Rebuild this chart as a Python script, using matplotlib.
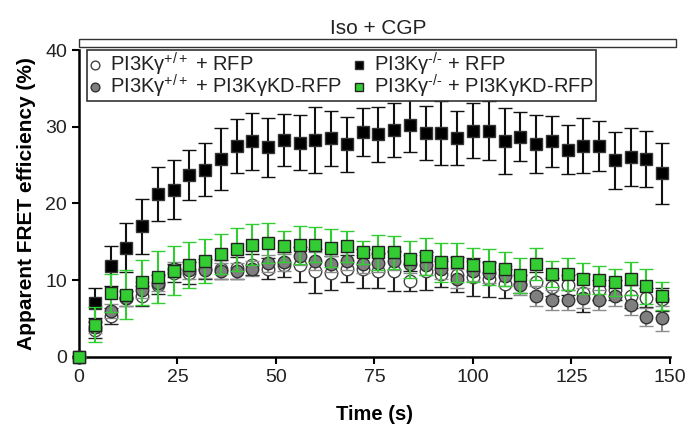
import matplotlib.pyplot as plt
from matplotlib.patches import Rectangle
import numpy as np

plt.rcParams['font.family'] = ['Liberation Sans', 'DejaVu Sans']
plt.rcParams['mathtext.fontset'] = 'custom'
plt.rcParams['mathtext.rm'] = 'Liberation Sans'
plt.rcParams['mathtext.it'] = 'Liberation Sans'
plt.rcParams['mathtext.bf'] = 'Liberation Sans:bold'
plt.rcParams['mathtext.default'] = 'regular'

# time points (s)
time_s = np.arange(0, 149, 4)

# PI3Kg-/- + RFP (black squares)
ko_rfp = [0, 7.0, 11.8, 14.2, 17.0, 21.2, 21.8, 23.7, 24.4, 25.8, 27.5, 28.1, 27.3, 28.3,
          27.9, 28.3, 28.5, 27.7, 29.3, 29.0, 29.6, 30.2, 29.2, 29.2, 28.5, 29.5, 29.5, 28.1,
          28.7, 27.7, 28.1, 27.0, 27.5, 27.5, 25.6, 26.0, 25.8, 23.9]
ko_rfp_err = [0, 1.9, 2.6, 3.2, 3.6, 3.5, 3.8, 3.2, 3.5, 4.0, 3.5, 3.7, 3.8, 3.4,
              3.6, 4.3, 3.6, 3.6, 3.1, 3.6, 3.5, 3.5, 3.5, 4.2, 3.5, 3.6, 3.9, 4.3,
              3.2, 3.8, 3.3, 3.2, 3.6, 3.3, 3.7, 3.8, 3.7, 4.0]

# PI3Kg-/- + PI3KgKD-RFP (green squares)
ko_kd = [0, 4.2, 8.3, 8.1, 9.7, 10.4, 11.2, 12.0, 12.5, 13.4, 14.0, 14.6, 14.8, 14.4,
         14.6, 14.6, 14.2, 14.4, 13.6, 13.6, 13.6, 12.7, 13.1, 12.3, 12.3, 12.0, 11.7, 11.4,
         10.6, 12.1, 10.8, 10.8, 10.2, 10.0, 9.7, 10.2, 9.2, 7.9]
ko_kd_err = [0, 2.3, 2.5, 3.2, 2.9, 3.4, 3.2, 3.0, 2.9, 2.6, 2.8, 2.7, 2.6, 2.0,
             2.5, 2.3, 2.5, 2.0, 1.5, 2.3, 2.2, 2.4, 2.4, 2.5, 2.5, 2.2, 2.3, 2.2,
             2.3, 2.1, 1.7, 2.1, 2.0, 1.8, 1.8, 2.1, 2.3, 1.8]

# PI3Kg+/+ + RFP (white circles)
wt_rfp = [0, 3.5, 5.3, 7.6, 7.9, 9.4, 10.9, 10.9, 11.4, 11.4, 11.6, 12.0, 11.5, 12.0,
          12.0, 11.2, 10.9, 11.5, 11.5, 11.2, 11.2, 9.9, 11.2, 10.8, 10.7, 10.4, 10.1, 9.5,
          9.5, 9.7, 9.1, 9.4, 8.3, 8.7, 8.7, 7.9, 7.7, 7.5]
wt_rfp_err = [0, 1.0, 1.0, 1.0, 1.3, 1.2, 1.2, 1.4, 1.3, 1.2, 1.4, 1.4, 1.4, 1.6,
              2.3, 2.9, 2.2, 1.8, 2.6, 2.3, 2.6, 1.3, 2.5, 1.7, 2.3, 2.5, 2.3, 1.9,
              1.2, 1.4, 1.2, 1.3, 2.5, 1.3, 1.3, 1.5, 1.2, 1.5]

# PI3Kg+/+ + PI3KgKD-RFP (grey circles)
wt_kd = [0, 3.9, 6.0, 7.6, 8.7, 9.6, 11.4, 11.3, 11.3, 11.2, 11.2, 11.5, 12.2, 12.3,
         13.1, 12.5, 12.1, 12.5, 12.1, 12.2, 12.5, 12.1, 12.0, 11.5, 10.2, 11.2, 10.9, 10.5,
         9.3, 7.9, 7.4, 7.4, 7.6, 7.4, 7.9, 6.8, 5.2, 5.0]
wt_kd_err = [0, 0.8, 0.9, 1.0, 1.0, 1.0, 1.0, 1.1, 1.0, 1.0, 1.0, 1.0, 1.1, 1.1,
             1.2, 1.2, 1.1, 1.2, 1.2, 1.2, 1.2, 1.2, 1.3, 1.3, 1.3, 1.3, 1.3, 1.3,
             1.3, 1.3, 1.3, 1.3, 1.3, 1.3, 1.3, 1.3, 1.2, 1.6]

green = '#33cc33'

fig = plt.figure(figsize=(6.91, 4.29), dpi=100)
ax = fig.add_axes([0.1143, 0.1685, 0.8553, 0.7149])

eb_kw = dict(linestyle='none', capsize=5, elinewidth=1.5, capthick=1.5, clip_on=False)
e1 = ax.errorbar(time_s, wt_rfp, yerr=wt_rfp_err, fmt='o', ms=9, mfc='white', mec='#444444',
                 mew=1.0, ecolor='#222222', label='PI3K$\\gamma^{+/+}$ + RFP', zorder=3, **eb_kw)
e2 = ax.errorbar(time_s, wt_kd, yerr=wt_kd_err, fmt='o', ms=9, mfc='#7f7f7f', mec='#333333',
                 mew=1.0, ecolor='#8c8c8c', label='PI3K$\\gamma^{+/+}$ + PI3K\u03b3KD-RFP', zorder=4, **eb_kw)
e3 = ax.errorbar(time_s, ko_rfp, yerr=ko_rfp_err, fmt='s', ms=9, mfc='black', mec='#333333',
                 mew=1.0, ecolor='#111111', label='PI3K$\\gamma^{\\text{-/-}}$ + RFP', zorder=5, **eb_kw)
e4 = ax.errorbar(time_s, ko_kd, yerr=ko_kd_err, fmt='s', ms=9, mfc=green, mec='#222222',
                 mew=1.0, ecolor=green, label='PI3K$\\gamma^{\\text{-/-}}$ + PI3K\u03b3KD-RFP', zorder=6, **eb_kw)

ax.set_xlim(0, 150)
ax.set_ylim(0, 40)
ax.set_xticks([0, 25, 50, 75, 100, 125, 150])
ax.set_yticks([0, 10, 20, 30, 40])
for s in ['top', 'right']:
    ax.spines[s].set_visible(False)
for s in ['left', 'bottom']:
    ax.spines[s].set_linewidth(1.8)
ax.tick_params(direction='out', length=5, width=1.5, labelsize=14, labelcolor='#222222')

ax.set_xlabel('Time (s)', fontsize=14.5, fontweight='bold', labelpad=14)
ax.set_ylabel('Apparent FRET efficiency (%)', fontsize=15, fontweight='bold', labelpad=7)

# treatment bar above the plot
ax.add_patch(Rectangle((0, 40.4), 151.5, 1.1, facecolor='white', edgecolor='#333333',
                       lw=1.0, clip_on=False))
ax.text(76, 42.1, 'Iso + CGP', ha='center', va='baseline', fontsize=15, color='#222222')

handles = [e1[0], e2[0], e3[0], e4[0]]
labels = [e.get_label() for e in [e1, e2, e3, e4]]
leg = ax.legend(handles, labels, ncol=2, loc='upper left', bbox_to_anchor=(0.0135, 1.0),
                borderaxespad=0, fontsize=14.5, markerscale=0.7, frameon=True, fancybox=False,
                edgecolor='#333333', framealpha=1, handlelength=0.7, handletextpad=0.4,
                columnspacing=0.5, labelspacing=-0.25, borderpad=0.05, labelcolor='#222222')
leg.get_frame().set_linewidth(1.2)
leg.set_zorder(10)

fig.savefig('out.png', dpi=100)
